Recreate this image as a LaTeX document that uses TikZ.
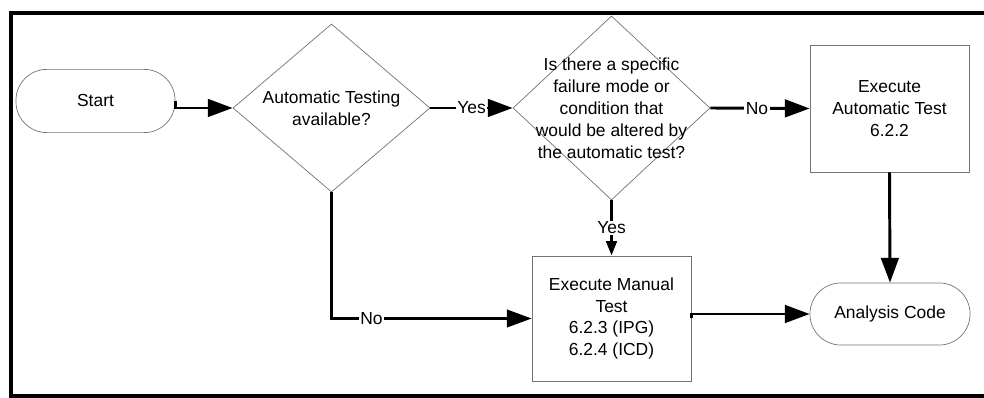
\documentclass[tikz,border=0pt]{standalone}
\usepackage{fontspec}
\setmainfont{Liberation Sans}
\usetikzlibrary{shapes.geometric,arrows.meta}
\tikzset{
        every node/.style={font=\fontsize{12.4}{15.6}\selectfont},
        terminal/.style={rectangle, draw=black!55, line width=0.5pt, rounded corners=0.77cm, minimum width=3.975cm, minimum height=1.58cm},
        process/.style={rectangle, draw=black!55, line width=0.5pt, minimum width=3.975cm, align=center},
        decision/.style={diamond, draw=black!55, line width=0.5pt, inner sep=0pt, minimum width=4.925cm},
        txt/.style={align=center, inner sep=0pt},
        conn/.style={line width=2.1pt, -{Triangle[length=0.62cm, width=0.44cm]}},
        thinconn/.style={line width=1.5pt, -{Triangle[length=0.62cm, width=0.44cm]}},
        shortconn/.style={line width=2.1pt, -{Triangle[length=0.36cm, width=0.26cm]}},
        lbl/.style={fill=white, inner sep=1pt},
        frame/.style={draw=black, line width=0.1cm}
          }

\begin{document}
\begin{tikzpicture}[x=0.025cm, y=-0.025cm]
      \useasboundingbox (0,0) rectangle (984,398);
      \draw[frame] (11,13) rectangle (1000,396);

      \node[terminal] (start) at (95.5,101) {Start};
      \node[decision, minimum height=4.2cm] (d1) at (331.5,108) {};
      \node[txt] (d1t) at (d1) {Automatic Testing\\available?};
      \node[decision, minimum height=4.6cm] (d2) at (611.5,108) {};
      \node[txt] (d2t) at (d2) {Is there a specific\\failure mode or\\condition that\\would be altered by\\the automatic test?};
      \node[process, minimum height=3.175cm] (auto) at (889.5,108.5) {Execute\\Automatic Test\\6.2.2};
      \node[process, minimum height=3.125cm] (manual) at (611.5,318.5) {Execute Manual\\Test\\6.2.3 (IPG)\\6.2.4 (ICD)};
      \node[terminal, minimum width=4cm, minimum height=1.55cm] (code) at (890,314) {Analysis Code};

      \draw[conn] (start.east) |- (d1.west);
      \draw[conn] (d1.east) -- node[lbl] {Yes} (d2.west);
      \draw[conn] (d2.east) -- node[lbl, pos=0.47] {No} (auto.west);
      \draw[shortconn] (d2.south) -- node[lbl] {Yes} (manual.north);
      \draw[thinconn] (d1.south) |- node[lbl, pos=0.6] {No} (manual.west);
      \draw[conn] (auto.south) -- (code.north);
      \draw[conn] (manual.east) |- (code.west);
\end{tikzpicture}
\end{document}
